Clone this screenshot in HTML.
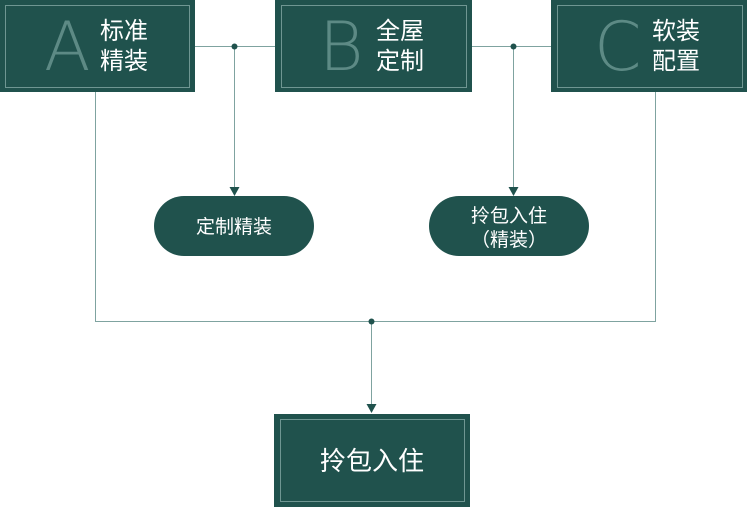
<html><head><style>body{margin:0;background:#fff}svg{display:block}
text{font-family:"Liberation Sans","Noto Sans CJK SC",sans-serif}
.L{font-family:"DejaVu Sans ExtraLight","DejaVu Sans",sans-serif;font-weight:200}</style></head><body>
<svg width="747" height="507" xmlns="http://www.w3.org/2000/svg">
<g stroke="#7fa3a0" stroke-width="1" fill="none">
<line x1="195" y1="46.5" x2="276" y2="46.5"/><line x1="472" y1="46.5" x2="551" y2="46.5"/>
<line x1="234.5" y1="46" x2="234.5" y2="188"/><line x1="513.5" y1="46" x2="513.5" y2="188"/>
<polyline points="95.5,92 95.5,321.5 655.5,321.5 655.5,92"/>
<line x1="371.5" y1="321" x2="371.5" y2="405"/>
</g>
<g fill="#20524d">
<circle cx="234.5" cy="46.5" r="3"/><circle cx="513.5" cy="46.5" r="3"/><circle cx="371.5" cy="321.5" r="3"/>
<polygon points="229.5,187 239.5,187 234.5,196"/><polygon points="508.5,187 518.5,187 513.5,196"/><polygon points="366.5,404 376.5,404 371.5,413"/>
<rect x="0" y="0" width="195" height="92"/><rect x="275" y="0" width="197" height="92"/><rect x="551" y="0" width="196" height="92"/>
<rect x="274" y="414" width="196" height="93"/>
<rect x="154" y="196" width="160" height="60" rx="30"/><rect x="429" y="196" width="160" height="60" rx="30"/>
</g>
<g stroke="#6f9692" fill="none">
<rect x="5.5" y="5.5" width="184" height="82"/><rect x="281.5" y="5.5" width="185" height="82"/><rect x="557.5" y="5.5" width="185" height="82"/>
<rect x="280.5" y="419.5" width="184" height="82"/>
</g>
<g fill="#5d8a85" font-size="68" class="L">
<text class="L" x="44" y="70">A</text><text class="L" x="319" y="70">B</text><text class="L" x="594" y="70">C</text>
</g>
<g fill="#fff" font-size="24">
<text x="100" y="39">标准</text><text x="100" y="69">精装</text>
<text x="376" y="39">全屋</text><text x="376" y="69">定制</text>
<text x="652" y="39">软装</text><text x="652" y="69">配置</text>
<text x="372" y="470" font-size="26" text-anchor="middle">拎包入住</text>
</g>
<g fill="#fff" font-size="19" text-anchor="middle">
<text x="234" y="233">定制精装</text>
<text x="509" y="222">拎包入住</text><text x="509" y="246">（精装）</text>
</g>
</svg></body></html>
